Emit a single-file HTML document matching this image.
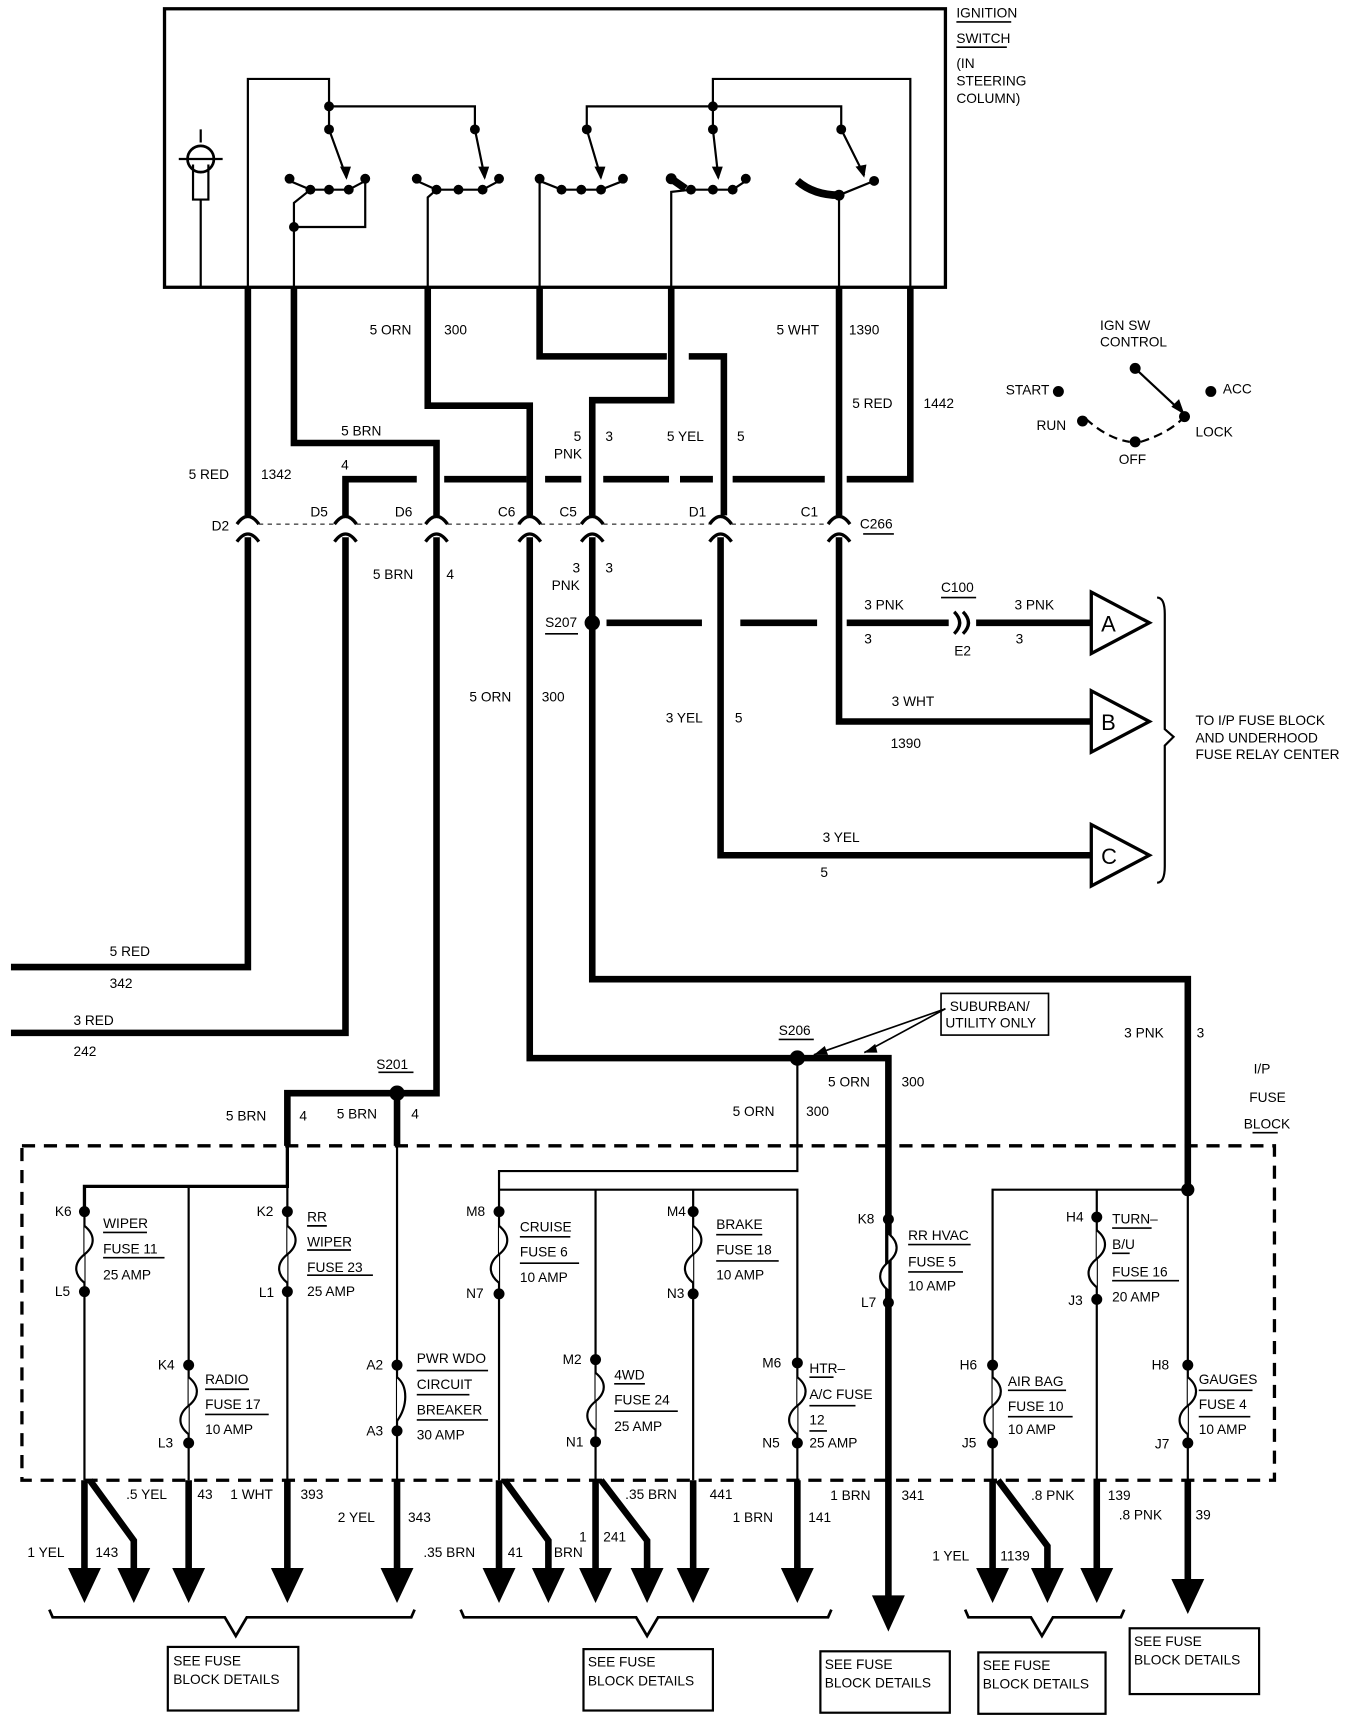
<!DOCTYPE html>
<html><head><meta charset="utf-8"><style>
html,body{margin:0;padding:0;background:#fff;}
svg{display:block;}
text{font-family:"Liberation Sans",sans-serif;font-size:12.5px;fill:#000;}
</style></head><body>
<svg width="1360" height="1716" viewBox="0 0 1240 1565" xmlns="http://www.w3.org/2000/svg" preserveAspectRatio="none">
<rect width="1240" height="1565" fill="#fff"/>
<g fill="none" stroke="#000" stroke-linecap="butt" stroke-linejoin="miter">
<rect x="150" y="8" width="712" height="254" stroke-width="3"/>
<circle cx="183" cy="145" r="12" stroke-width="2.5"/>
<path d="M176 150 L176 182 L190 182 L190 150 M183 118 L183 130 M163 145 L203 145 M183 182 L183 262" stroke-width="2"/>
<g stroke-width="2">
<path d="M226 262 L226 72 L300 72 L300 118 M300 97 L433 97 L433 118"/>
<path d="M535 118 L535 97 L650 97 L650 118 M650 97 L767 97 L767 118 M650 97 L650 72 L830 72 L830 262"/>
<path d="M300 118 L316 162 M433 118 L442 162 M535 118 L548 162 M650 118 L655 162 M767 118 L788 160"/>
<path d="M268 262 L268 207 L333 207 L333 162 M268 207 L268 185 L283 173 M264 165 L283 173 L318 173 L333 165"/>
<path d="M390 262 L390 180 L398 173 L440 173 L455 165 M380 165 L398 173"/>
<path d="M492 262 L492 165 L512 173 L548 173 L568 165"/>
<path d="M612 262 L612 175 L630 173 L668 173 L680 165"/>
<path d="M765 262 L765 178 L797 165"/>
</g>
<path d="M727 165 Q742 178 765 178" stroke-width="7"/>
<path d="M612 163 L625 172" stroke-width="7"/>
<g stroke-width="6">
<path d="M226 262 L226 470 M226 490 L226 882 L10 882"/>
<path d="M268 262 L268 404 L398 404 L398 470 M398 490 L398 997 L362 997 L262 997 L262 1045"/>
<path d="M362 997 L362 1045"/>
<path d="M315 470 L315 437 L380 437 M315 490 L315 942 L10 942"/>
<path d="M405 437 L480 437 M497 437 L530 437 M550 437 L610 437 M620 437 L650 437 M668 437 L752 437 M772 437 L830 437 L830 262"/>
<path d="M390 262 L390 370 L483 370 L483 470 M483 490 L483 965 L727 965 L810 965 L810 1460"/>
<path d="M492 262 L492 325 L608 325 M628 325 L660 325 L660 470 M657 490 L657 780 L995 780"/>
<path d="M612 262 L612 365 L540 365 L540 470 M540 490 L540 893 L1083 893 L1083 1085"/>
<path d="M553 568 L640 568 M675 568 L745 568 M772 568 L865 568 M890 568 L995 568"/>
<path d="M765 262 L765 470 M765 490 L765 658 L995 658"/>
</g>
<g stroke-width="3">
<path d="M216 478 Q226 464 236 478 M216 494 Q226 480 236 494"/>
<path d="M305 478 Q315 464 325 478 M305 494 Q315 480 325 494"/>
<path d="M388 478 Q398 464 408 478 M388 494 Q398 480 408 494"/>
<path d="M473 478 Q483 464 493 478 M473 494 Q483 480 493 494"/>
<path d="M530 478 Q540 464 550 478 M530 494 Q540 480 550 494"/>
<path d="M647 478 Q657 464 667 478 M647 494 Q657 480 667 494"/>
<path d="M755 478 Q765 464 775 478 M755 494 Q765 480 775 494"/>
<path d="M870 558 Q880 568 870 578 M878 558 Q888 568 878 578"/>
</g>
<path d="M236 478 L305 478 M325 478 L388 478 M408 478 L473 478 M493 478 L530 478 M550 478 L647 478 M667 478 L755 478" stroke-width="1" stroke-dasharray="4 4"/>
<g stroke-width="3">
<path d="M995 540 L1048 568 L995 596 Z"/>
<path d="M995 630 L1048 658 L995 686 Z"/>
<path d="M995 752 L1048 780 L995 808 Z"/>
<path d="M1055 545 Q1062 545 1062 560 L1062 665 L1070 672 L1062 680 L1062 790 Q1062 805 1055 805" stroke-width="2"/>
</g>
<path d="M990 382 Q1010 400 1030 403 M1040 403 Q1065 395 1078 382" stroke-width="2" stroke-dasharray="8 5"/>
<path d="M1035 336 L1080 378" stroke-width="2"/>
<path d="M862 920 L742 962 M862 920 L788 960" stroke-width="1.5"/>
<rect x="858" y="906" width="98" height="38" stroke-width="1.5"/>
<rect x="20" y="1045" width="1142" height="305" stroke-width="3" stroke-dasharray="12 8"/>
<path d="M262 1045 L262 1082 L77 1082 L77 1105" stroke-width="3"/>
<g stroke-width="2">
<path d="M77 1082 L77 1350 M172 1082 L172 1350 M262 1082 L262 1350 M362 1045 L362 1350"/>
<path d="M727 965 L727 1068 L455 1068 L455 1350 M455 1085 L727 1085 L727 1350 M543 1085 L543 1350 M632 1085 L632 1350"/>
<path d="M1083 1085 L905 1085 L905 1350 M1000 1085 L1000 1350 M1083 1085 L1083 1350"/>
</g>
<g stroke-width="2" fill="#fff">
<path d="M77 1118 c10 8 10 18 0 26 c-10 8 -10 18 0 26"/>
<path d="M262 1118 c10 8 10 18 0 26 c-10 8 -10 18 0 26"/>
<path d="M172 1256 c10 8 10 18 0 26 c-10 8 -10 18 0 26"/>
<path d="M362 1256 c10 8 10 26 0 40"/>
<path d="M455 1118 c10 8 10 18 0 26 c-10 8 -10 18 0 26"/>
<path d="M632 1118 c10 8 10 18 0 26 c-10 8 -10 18 0 26"/>
<path d="M543 1252 c10 8 10 18 0 26 c-10 8 -10 18 0 26"/>
<path d="M727 1256 c10 8 10 18 0 26 c-10 8 -10 18 0 26"/>
<path d="M810 1125 c10 8 10 18 0 26 c-10 8 -10 18 0 26"/>
<path d="M1000 1122 c10 8 10 18 0 26 c-10 8 -10 18 0 26"/>
<path d="M905 1256 c10 8 10 18 0 26 c-10 8 -10 18 0 26"/>
<path d="M1083 1256 c10 8 10 18 0 26 c-10 8 -10 18 0 26"/>
</g>
<g stroke-width="6">
<path d="M77 1350 L77 1435 M82 1350 L122 1405 L122 1435 M172 1350 L172 1435 M262 1350 L262 1435 M362 1350 L362 1435"/>
<path d="M455 1350 L455 1435 M460 1350 L500 1405 L500 1435 M543 1350 L543 1435 M548 1350 L590 1405 L590 1435 M632 1350 L632 1435 M727 1350 L727 1435"/>
<path d="M905 1350 L905 1435 M910 1350 L955 1410 L955 1435 M1000 1350 L1000 1435 M1083 1350 L1083 1445"/>
</g>
<g stroke-width="2.5">
<path d="M45 1468 L48 1475 L205 1475 L215 1492 L225 1475 L375 1475 L378 1468"/>
<path d="M420 1468 L423 1475 L580 1475 L590 1492 L600 1475 L755 1475 L758 1468"/>
<path d="M880 1468 L883 1475 L940 1475 L950 1492 L960 1475 L1022 1475 L1025 1468"/>
</g>
<g stroke-width="2">
<rect x="153" y="1502" width="119" height="58"/>
<rect x="532" y="1504" width="118" height="56"/>
<rect x="748" y="1506" width="118" height="56"/>
<rect x="892" y="1507" width="116" height="56"/>
<rect x="1030" y="1485" width="118" height="60"/>
</g>
<g stroke-width="1.5">
<path d="M872 20 L922 20 M872 43 L918 43 M787 487 L815 487 M497 578 L527 578 M345 978 L377 978 M710 948 L742 948 M858 545 L890 545"/>
<path d="M94 1124 L134 1124 M94 1147 L150 1147 M280 1118 L298 1118 M280 1140 L320 1140 M280 1163 L340 1163 M187 1267 L227 1267 M187 1290 L245 1290 M380 1250 L445 1250 M380 1272 L428 1272 M380 1295 L445 1295"/>
<path d="M474 1128 L520 1128 M474 1152 L528 1152 M653 1126 L695 1126 M653 1150 L710 1150 M560 1262 L588 1262 M560 1287 L618 1287 M738 1256 L760 1256 M738 1282 L780 1282 M738 1305 L754 1305"/>
<path d="M828 1135 L885 1135 M828 1160 L878 1160 M1014 1120 L1050 1120 M1014 1143 L1030 1143 M1014 1168 L1075 1168 M919 1268 L972 1268 M919 1292 L978 1292 M1093 1268 L1142 1268 M1093 1292 L1140 1292"/>
<path d="M1142 1033 L1165 1033"/>
</g>
</g>
<g fill="#000">
<circle cx="300" cy="97" r="4.5"/><circle cx="300" cy="118" r="4.5"/><circle cx="433" cy="118" r="4.5"/>
<circle cx="535" cy="118" r="4.5"/><circle cx="650" cy="97" r="4.5"/><circle cx="650" cy="118" r="4.5"/><circle cx="767" cy="118" r="4.5"/>
<circle cx="264" cy="163" r="4.5"/><circle cx="333" cy="163" r="4.5"/><circle cx="283" cy="173" r="4.5"/><circle cx="300" cy="173" r="4.5"/><circle cx="318" cy="173" r="4.5"/><circle cx="268" cy="207" r="4.5"/>
<circle cx="380" cy="163" r="4.5"/><circle cx="455" cy="163" r="4.5"/><circle cx="398" cy="173" r="4.5"/><circle cx="418" cy="173" r="4.5"/><circle cx="440" cy="173" r="4.5"/>
<circle cx="492" cy="163" r="4.5"/><circle cx="568" cy="163" r="4.5"/><circle cx="512" cy="173" r="4.5"/><circle cx="530" cy="173" r="4.5"/><circle cx="548" cy="173" r="4.5"/>
<circle cx="612" cy="163" r="5"/><circle cx="680" cy="163" r="4.5"/><circle cx="630" cy="173" r="4.5"/><circle cx="650" cy="173" r="4.5"/><circle cx="668" cy="173" r="4.5"/>
<circle cx="797" cy="165" r="4.5"/><circle cx="765" cy="178" r="5"/>
<circle cx="965" cy="357" r="5"/><circle cx="987" cy="384" r="5"/><circle cx="1035" cy="403" r="5"/><circle cx="1080" cy="380" r="5"/><circle cx="1104" cy="357" r="5"/><circle cx="1035" cy="336" r="5"/>
<path d="M1080 378 L1068 371 L1075 364 Z"/>
<path d="M316 164 L310 152 L320 152 Z"/><path d="M442 164 L436 152 L446 152 Z"/><path d="M548 164 L542 152 L552 152 Z"/><path d="M655 164 L649 152 L659 152 Z"/><path d="M788 162 L780 152 L790 150 Z"/>
<circle cx="540" cy="568" r="7"/><circle cx="727" cy="965" r="7"/><circle cx="362" cy="997" r="7"/>
<path d="M742 962 L752 954 L755 962 Z"/><path d="M788 960 L798 952 L800 960 Z"/>
<circle cx="77" cy="1105" r="5"/><circle cx="77" cy="1178" r="5"/><circle cx="262" cy="1105" r="5"/><circle cx="262" cy="1178" r="5"/>
<circle cx="172" cy="1245" r="5"/><circle cx="172" cy="1316" r="5"/><circle cx="362" cy="1245" r="5"/><circle cx="362" cy="1305" r="5"/>
<circle cx="455" cy="1105" r="5"/><circle cx="455" cy="1180" r="5"/><circle cx="632" cy="1105" r="5"/><circle cx="632" cy="1180" r="5"/>
<circle cx="543" cy="1240" r="5"/><circle cx="543" cy="1315" r="5"/><circle cx="727" cy="1243" r="5"/><circle cx="727" cy="1316" r="5"/>
<circle cx="810" cy="1112" r="5"/><circle cx="810" cy="1188" r="5"/><circle cx="1000" cy="1110" r="5"/><circle cx="1000" cy="1185" r="5"/>
<circle cx="905" cy="1245" r="5"/><circle cx="905" cy="1316" r="5"/><circle cx="1083" cy="1245" r="5"/><circle cx="1083" cy="1316" r="5"/><circle cx="1083" cy="1085" r="6"/>
<path d="M62 1430 L92 1430 L77 1462 Z"/><path d="M107 1430 L137 1430 L122 1462 Z"/><path d="M157 1430 L187 1430 L172 1462 Z"/><path d="M247 1430 L277 1430 L262 1462 Z"/><path d="M347 1430 L377 1430 L362 1462 Z"/>
<path d="M440 1430 L470 1430 L455 1462 Z"/><path d="M485 1430 L515 1430 L500 1462 Z"/><path d="M528 1430 L558 1430 L543 1462 Z"/><path d="M575 1430 L605 1430 L590 1462 Z"/><path d="M617 1430 L647 1430 L632 1462 Z"/><path d="M712 1430 L742 1430 L727 1462 Z"/>
<path d="M795 1455 L825 1455 L810 1488 Z"/>
<path d="M890 1430 L920 1430 L905 1462 Z"/><path d="M940 1430 L970 1430 L955 1462 Z"/><path d="M985 1430 L1015 1430 L1000 1462 Z"/><path d="M1068 1440 L1098 1440 L1083 1472 Z"/>
</g>
<g>
<text x="872" y="16">IGNITION</text><text x="872" y="39">SWITCH</text><text x="872" y="62">(IN</text><text x="872" y="78">STEERING</text><text x="872" y="94">COLUMN)</text>
<text x="337" y="305">5 ORN</text><text x="405" y="305">300</text>
<text x="708" y="305">5 WHT</text><text x="774" y="305">1390</text>
<text x="777" y="372">5 RED</text><text x="842" y="372">1442</text>
<text x="311" y="397">5 BRN</text>
<text x="523" y="402">5</text><text x="552" y="402">3</text><text x="505" y="418">PNK</text>
<text x="608" y="402">5 YEL</text><text x="672" y="402">5</text>
<text x="172" y="437">5 RED</text><text x="238" y="437">1342</text><text x="311" y="428">4</text>
<text x="193" y="484">D2</text><text x="283" y="471">D5</text><text x="360" y="471">D6</text><text x="454" y="471">C6</text><text x="510" y="471">C5</text><text x="628" y="471">D1</text><text x="730" y="471">C1</text><text x="784" y="482">C266</text>
<text x="340" y="528">5 BRN</text><text x="407" y="528">4</text>
<text x="522" y="522">3</text><text x="552" y="522">3</text><text x="503" y="538">PNK</text>
<text x="497" y="572">S207</text>
<text x="788" y="556">3 PNK</text><text x="788" y="587">3</text><text x="858" y="540">C100</text><text x="870" y="598">E2</text><text x="925" y="556">3 PNK</text><text x="926" y="587">3</text>
<text x="1004" y="576" style="font-size:20px">A</text><text x="1004" y="666" style="font-size:20px">B</text><text x="1004" y="788" style="font-size:20px">C</text>
<text x="428" y="640">5 ORN</text><text x="494" y="640">300</text>
<text x="813" y="644">3 WHT</text><text x="812" y="682">1390</text>
<text x="607" y="659">3 YEL</text><text x="670" y="659">5</text>
<text x="750" y="768">3 YEL</text><text x="748" y="800">5</text>
<text x="1090" y="661">TO I/P FUSE BLOCK</text><text x="1090" y="677">AND UNDERHOOD</text><text x="1090" y="692">FUSE RELAY CENTER</text>
<text x="1003" y="301">IGN SW</text><text x="1003" y="316">CONTROL</text>
<text x="917" y="360">START</text><text x="945" y="392">RUN</text><text x="1020" y="423">OFF</text><text x="1090" y="398">LOCK</text><text x="1115" y="359">ACC</text>
<text x="100" y="872">5 RED</text><text x="100" y="901">342</text>
<text x="67" y="935">3 RED</text><text x="67" y="963">242</text>
<text x="866" y="922">SUBURBAN/</text><text x="862" y="937">UTILITY ONLY</text>
<text x="710" y="944">S206</text><text x="343" y="975">S201</text>
<text x="755" y="991">5 ORN</text><text x="822" y="991">300</text>
<text x="1025" y="946">3 PNK</text><text x="1091" y="946">3</text>
<text x="1143" y="979">I/P</text><text x="1139" y="1005">FUSE</text><text x="1134" y="1029">BLOCK</text>
<text x="206" y="1022">5 BRN</text><text x="273" y="1022">4</text><text x="307" y="1020">5 BRN</text><text x="375" y="1020">4</text>
<text x="668" y="1018">5 ORN</text><text x="735" y="1018">300</text>
<text x="50" y="1109">K6</text><text x="94" y="1120">WIPER</text><text x="94" y="1143">FUSE 11</text><text x="94" y="1167">25 AMP</text><text x="50" y="1182">L5</text>
<text x="234" y="1109">K2</text><text x="280" y="1114">RR</text><text x="280" y="1137">WIPER</text><text x="280" y="1160">FUSE 23</text><text x="280" y="1182">25 AMP</text><text x="236" y="1183">L1</text>
<text x="144" y="1249">K4</text><text x="187" y="1262">RADIO</text><text x="187" y="1285">FUSE 17</text><text x="187" y="1308">10 AMP</text><text x="144" y="1320">L3</text>
<text x="334" y="1249">A2</text><text x="380" y="1243">PWR WDO</text><text x="380" y="1267">CIRCUIT</text><text x="380" y="1290">BREAKER</text><text x="380" y="1313">30 AMP</text><text x="334" y="1309">A3</text>
<text x="425" y="1109">M8</text><text x="474" y="1123">CRUISE</text><text x="474" y="1146">FUSE 6</text><text x="474" y="1169">10 AMP</text><text x="425" y="1184">N7</text>
<text x="608" y="1109">M4</text><text x="653" y="1121">BRAKE</text><text x="653" y="1144">FUSE 18</text><text x="653" y="1167">10 AMP</text><text x="608" y="1184">N3</text>
<text x="513" y="1244">M2</text><text x="560" y="1258">4WD</text><text x="560" y="1281">FUSE 24</text><text x="560" y="1305">25 AMP</text><text x="516" y="1319">N1</text>
<text x="695" y="1247">M6</text><text x="738" y="1252">HTR–</text><text x="738" y="1276">A/C FUSE</text><text x="738" y="1299">12</text><text x="738" y="1320">25 AMP</text><text x="695" y="1320">N5</text>
<text x="782" y="1116">K8</text><text x="828" y="1131">RR HVAC</text><text x="828" y="1155">FUSE 5</text><text x="828" y="1177">10 AMP</text><text x="785" y="1192">L7</text>
<text x="972" y="1114">H4</text><text x="1014" y="1116">TURN–</text><text x="1014" y="1139">B/U</text><text x="1014" y="1164">FUSE 16</text><text x="1014" y="1187">20 AMP</text><text x="974" y="1190">J3</text>
<text x="875" y="1249">H6</text><text x="919" y="1264">AIR BAG</text><text x="919" y="1287">FUSE 10</text><text x="919" y="1308">10 AMP</text><text x="877" y="1320">J5</text>
<text x="1050" y="1249">H8</text><text x="1093" y="1262">GAUGES</text><text x="1093" y="1285">FUSE 4</text><text x="1093" y="1308">10 AMP</text><text x="1053" y="1321">J7</text>
<text x="115" y="1367">.5 YEL</text><text x="180" y="1367">43</text><text x="210" y="1367">1 WHT</text><text x="274" y="1367">393</text>
<text x="308" y="1388">2 YEL</text><text x="372" y="1388">343</text>
<text x="25" y="1420">1 YEL</text><text x="87" y="1420">143</text>
<text x="570" y="1367">.35 BRN</text><text x="647" y="1367">441</text>
<text x="668" y="1388">1 BRN</text><text x="737" y="1388">141</text>
<text x="386" y="1420">.35 BRN</text><text x="463" y="1420">41</text><text x="505" y="1420">BRN</text><text x="528" y="1406">1</text><text x="550" y="1406">241</text>
<text x="757" y="1368">1 BRN</text><text x="822" y="1368">341</text>
<text x="940" y="1368">.8 PNK</text><text x="1010" y="1368">139</text><text x="1020" y="1386">.8 PNK</text><text x="1090" y="1386">39</text>
<text x="850" y="1423">1 YEL</text><text x="912" y="1423">1139</text>
<text x="158" y="1519">SEE FUSE</text><text x="158" y="1536">BLOCK DETAILS</text>
<text x="536" y="1520">SEE FUSE</text><text x="536" y="1537">BLOCK DETAILS</text>
<text x="752" y="1522">SEE FUSE</text><text x="752" y="1539">BLOCK DETAILS</text>
<text x="896" y="1523">SEE FUSE</text><text x="896" y="1540">BLOCK DETAILS</text>
<text x="1034" y="1501">SEE FUSE</text><text x="1034" y="1518">BLOCK DETAILS</text>
</g>
</svg>
</body></html>
